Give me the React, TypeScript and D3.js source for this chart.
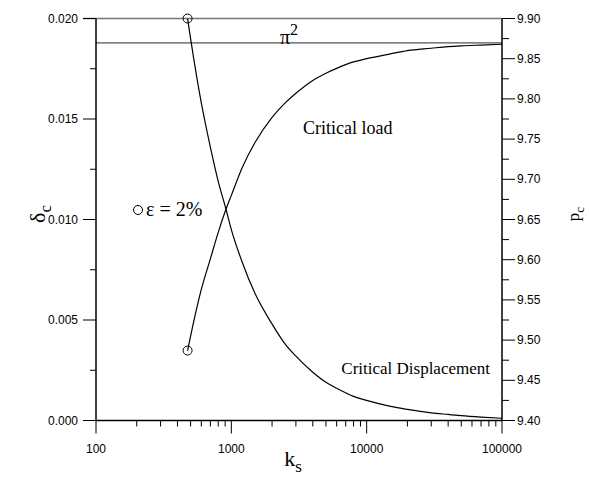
import React from 'react';
import * as d3 from 'd3';

// values
const ks = [475, 500, 600, 700, 800, 914, 1000, 1200, 1500, 2000, 2500, 3000, 4000, 5000, 6000, 8000, 10000, 15000, 20000, 30000, 40000, 50000, 70000, 100000];
const deltaC = [0.0200, 0.0190, 0.0158, 0.0136, 0.0119, 0.0105, 0.0095, 0.0079, 0.0063, 0.0048, 0.0038, 0.0032, 0.0024, 0.0019, 0.0016, 0.0012, 0.00100, 0.00070, 0.00055, 0.00038, 0.00030, 0.00024, 0.00017, 0.00011];
const pC = [9.487, 9.505, 9.563, 9.601, 9.634, 9.663, 9.680, 9.714, 9.746, 9.777, 9.795, 9.807, 9.823, 9.832, 9.838, 9.846, 9.850, 9.856, 9.860, 9.863, 9.865, 9.866, 9.867, 9.868];
const PI2 = 9.8696;

const xTicks = [100, 1000, 10000, 100000];
const leftTicks = [0, 0.005, 0.01, 0.015, 0.02];
const rightTicks = [9.4, 9.45, 9.5, 9.55, 9.6, 9.65, 9.7, 9.75, 9.8, 9.85, 9.9];

const W = 589;
const H = 483;
const m = { left: 96, right: 502, top: 18.5, bottom: 420.5 };

const App: React.FC = () => {
  const x = d3.scaleLog().domain([100, 100000]).range([m.left, m.right]);
  const yL = d3.scaleLinear().domain([0, 0.02]).range([m.bottom, m.top]);
  const yR = d3.scaleLinear().domain([9.4, 9.9]).range([m.bottom, m.top]);

  const lineL = d3.line<number>()
    .x((_, i) => x(ks[i]))
    .y(d => yL(d))
    .curve(d3.curveMonotoneX);
  const lineR = d3.line<number>()
    .x((_, i) => x(ks[i]))
    .y(d => yR(d))
    .curve(d3.curveMonotoneX);

  // minor ticks
  const xMinor: number[] = [];
  [100, 1000, 10000].forEach(d => {
    for (let k = 2; k <= 9; k++) xMinor.push(d * k);
  });
  const leftMinor = [0.0025, 0.0075, 0.0125, 0.0175];
  const rightMinor = d3.range(9.425, 9.9, 0.05);

  const tickFont = { fontFamily: '"Liberation Sans", Arial, sans-serif', fontSize: 12 };
  const serif = '"Liberation Serif", "Times New Roman", serif';

  return (
    <svg width={W} height={H} style={{ position: 'absolute', left: 0, top: 0, background: '#fff' }}>
      {/* gray horizontal lines: top of frame and pi^2 */}
      <line x1={83} x2={m.right} y1={yL(0.02)} y2={yL(0.02)} stroke="#777" strokeWidth={1.5} />
      <line x1={m.left} x2={m.right} y1={yR(PI2)} y2={yR(PI2)} stroke="#555" strokeWidth={1.3} />

      {/* curves */}
      <path d={lineL(deltaC) || ''} fill="none" stroke="#000" strokeWidth={1.2} />
      <path d={lineR(pC) || ''} fill="none" stroke="#000" strokeWidth={1.2} />
      <circle cx={x(ks[0])} cy={yL(deltaC[0])} r={4.5} fill="none" stroke="#000" strokeWidth={1} />
      <circle cx={x(ks[0])} cy={yR(pC[0])} r={4.5} fill="none" stroke="#000" strokeWidth={1} />

      {/* axes */}
      <line x1={m.left} x2={m.left} y1={m.top} y2={m.bottom} stroke="#000" strokeWidth={1.5} />
      <line x1={m.right} x2={m.right} y1={m.top} y2={m.bottom} stroke="#000" strokeWidth={1.5} />
      <line x1={m.left} x2={m.right} y1={m.bottom} y2={m.bottom} stroke="#000" strokeWidth={1.5} />

      {/* bottom ticks */}
      {xTicks.map(d => (
        <g key={'x' + d}>
          <line x1={x(d)} x2={x(d)} y1={m.bottom} y2={m.bottom + 13} stroke="#000" strokeWidth={1} />
          <text x={x(d)} y={453} textAnchor="middle" style={tickFont}>{d}</text>
        </g>
      ))}
      {xMinor.map(d => (
        <line key={'xm' + d} x1={x(d)} x2={x(d)} y1={m.bottom} y2={m.bottom + 6} stroke="#000" strokeWidth={1} />
      ))}

      {/* left ticks */}
      {leftTicks.map(d => (
        <g key={'l' + d}>
          <line x1={m.left - 13} x2={m.left} y1={yL(d)} y2={yL(d)} stroke="#000" strokeWidth={1} />
          <text x={78} y={yL(d) + 4} textAnchor="end" style={tickFont}>{d.toFixed(3)}</text>
        </g>
      ))}
      {leftMinor.map(d => (
        <line key={'lm' + d} x1={m.left - 6} x2={m.left} y1={yL(d)} y2={yL(d)} stroke="#000" strokeWidth={1} />
      ))}

      {/* right ticks */}
      {rightTicks.map(d => (
        <g key={'r' + d}>
          <line x1={m.right} x2={m.right + 13} y1={yR(d)} y2={yR(d)} stroke="#000" strokeWidth={1} />
          <text x={517} y={yR(d) + 4} textAnchor="start" style={tickFont}>{d.toFixed(2)}</text>
        </g>
      ))}
      {rightMinor.map(d => (
        <line key={'rm' + d} x1={m.right} x2={m.right + 7} y1={yR(d)} y2={yR(d)} stroke="#000" strokeWidth={1} />
      ))}

      {/* annotations */}
      <text x={280} y={44} fontFamily={serif} fontSize={20}>π<tspan dy={-9} fontSize={16}>2</tspan></text>
      <text x={303} y={134} fontFamily={serif} fontSize={18}>Critical load</text>
      <text x={490} y={374} textAnchor="end" fontFamily={serif} fontSize={17}>Critical Displacement</text>
      <circle cx={138} cy={210} r={4.5} fill="none" stroke="#000" strokeWidth={1} />
      <text x={146} y={216} fontFamily={serif} fontSize={20}>ε = 2%</text>

      {/* axis titles */}
      <text transform="translate(45,214) rotate(-90)" textAnchor="middle" fontFamily={serif} fontSize={22}>
        δ<tspan dy={6} fontSize={17}>c</tspan>
      </text>
      <text transform="translate(579,214) rotate(-90)" textAnchor="middle" fontFamily={serif} fontSize={17}>
        p<tspan dy={5} fontSize={13}>c</tspan>
      </text>
      <text x={293} y={466} textAnchor="middle" fontFamily={serif} fontSize={22}>
        k<tspan dy={6} fontSize={17}>s</tspan>
      </text>
    </svg>
  );
};

export default App;
